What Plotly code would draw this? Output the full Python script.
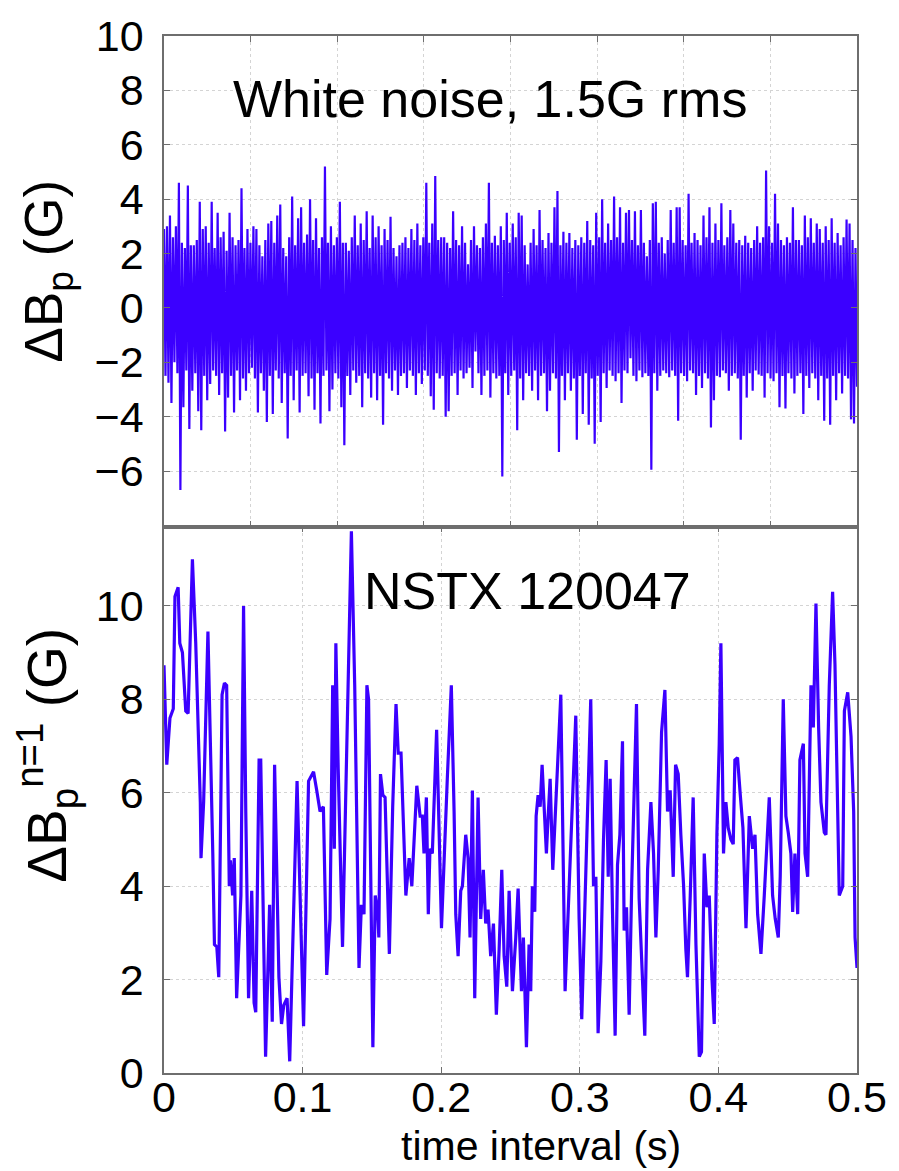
import numpy as np
import plotly.graph_objects as go

# ---- Top panel: synthetic white noise, 1.5 G rms (positive / negative swings) ----
noise_pos = [
    2.9, 3.0, 3.4, 2.6, 3.0, 4.6, 2.4, 2.2, 4.5, 2.3, 2.3, 2.5, 3.9, 2.9, 3.0, 2.4, 3.9, 2.2, 3.5, 2.6,
    2.8, 2.1, 3.5, 2.6, 2.3, 2.5, 4.4, 2.2, 2.9, 2.4, 3.0, 2.9, 2.3, 1.9, 2.5, 3.1, 3.2, 2.4, 3.4, 3.8,
    2.2, 1.9, 2.6, 4.1, 2.3, 3.3, 3.7, 2.4, 2.7, 4.0, 2.5, 3.3, 2.2, 2.6, 5.2, 2.4, 3.0, 2.3, 2.6, 3.9,
    2.4, 2.4, 2.1, 2.6, 3.4, 2.3, 3.1, 2.5, 3.55, 2.2, 3.4, 2.6, 3.0, 2.3, 2.9, 2.5, 3.35, 2.2, 1.9, 2.3,
    2.4, 2.6, 2.2, 2.9, 2.5, 3.1, 2.3, 2.6, 4.6, 2.4, 3.1, 4.85, 2.5, 2.6, 2.6, 2.4, 2.2, 3.55, 2.5, 2.3,
    3.0, 2.4, 1.6, 2.5, 3.0, 2.3, 2.2, 2.6, 3.1, 4.6, 2.4, 2.65, 2.3, 3.0, 2.5, 3.5, 2.4, 3.1, 2.6, 3.5,
    3.4, 2.3, 1.6, 2.4, 2.9, 2.3, 3.6, 2.5, 2.2, 2.75, 2.4, 3.7, 4.3, 2.3, 2.8, 2.4, 2.75, 2.2, 2.5, 2.3,
    2.6, 2.4, 3.2, 2.5, 2.3, 3.5, 2.6, 4.0, 2.4, 3.1, 2.5, 4.1, 2.6, 3.7, 2.4, 3.5, 3.6, 2.5, 3.55, 2.3,
    3.6, 2.4, 1.9, 2.5, 3.85, 3.9, 2.4, 2.6, 2.0, 2.5, 3.6, 2.4, 3.7, 3.7, 2.5, 2.3, 4.2, 2.4, 2.75, 2.5,
    2.3, 3.4, 2.6, 3.7, 2.4, 3.1, 2.5, 3.85, 2.3, 2.6, 3.6, 3.1, 2.4, 2.5, 2.3, 2.65, 2.4, 2.2, 2.5, 3.0,
    2.4, 2.6, 5.05, 3.0, 2.4, 4.2, 3.1, 2.5, 2.3, 2.6, 2.4, 3.7, 2.5, 2.5, 2.3, 3.4, 2.6, 3.3, 2.4, 3.1,
    2.9, 2.4, 3.0, 2.5, 3.3, 2.4, 2.75, 2.3, 2.6, 3.25, 3.1, 2.5, 2.2,
]
noise_neg = [
    -2.5, -2.75, -3.5, -2.0, -2.4, -6.7, -3.65, -2.3, -4.45, -3.05, -2.4, -3.8, -4.5, -2.5, -3.4, -2.8, -2.3, -2.5, -3.2, -2.4,
    -4.55, -3.3, -2.5, -3.85, -2.3, -3.4, -2.6, -3.05, -2.4, -2.2, -2.6, -3.85, -2.4, -3.05, -4.2, -2.5, -3.9, -2.3, -2.6, -3.5,
    -2.4, -4.8, -2.5, -3.4, -2.3, -3.85, -2.5, -2.4, -3.25, -2.6, -3.75, -2.4, -4.25, -2.5, -2.3, -3.8, -3.0, -2.4, -2.6, -3.65,
    -5.05, -2.5, -3.2, -2.3, -2.75, -2.5, -3.65, -2.4, -2.6, -3.3, -2.4, -3.4, -2.5, -4.3, -2.4, -2.6, -3.05, -2.3, -3.2, -2.5,
    -2.4, -2.95, -2.3, -2.5, -3.2, -2.4, -2.8, -2.3, -2.5, -3.25, -3.75, -2.4, -2.6, -2.5, -4.0, -3.8, -2.5, -2.4, -3.2, -2.3,
    -2.6, -2.4, -2.2, -2.95, -1.6, -2.4, -3.2, -2.5, -2.3, -3.3, -2.4, -2.6, -2.5, -6.2, -2.4, -3.2, -2.5, -2.3, -4.5, -2.6,
    -3.4, -2.4, -2.5, -3.05, -2.3, -3.4, -2.5, -2.4, -3.8, -3.05, -2.4, -2.6, -5.3, -2.5, -3.4, -2.4, -3.05, -2.6, -4.85, -2.5,
    -3.9, -2.4, -4.3, -2.6, -5.0, -2.5, -4.2, -2.4, -2.95, -2.3, -2.5, -2.7, -2.4, -3.5, -2.3, -2.4, -1.85, -2.5, -2.7, -2.3,
    -2.55, -2.4, -2.5, -5.95, -2.4, -3.05, -2.5, -2.3, -2.4, -2.55, -2.3, -2.5, -4.15, -2.4, -2.5, -2.7, -2.3, -2.4, -3.2, -2.5,
    -2.95, -2.4, -2.6, -4.4, -3.4, -2.5, -2.55, -2.3, -2.4, -3.05, -2.5, -2.4, -2.6, -4.85, -2.5, -3.3, -2.4, -3.05, -2.3, -2.45,
    -2.5, -3.3, -2.4, -2.6, -2.7, -2.4, -3.65, -2.5, -3.7, -2.4, -2.6, -3.15, -2.5, -2.4, -3.9, -2.5, -2.95, -2.4, -2.6, -3.4,
    -2.5, -4.15, -2.6, -4.3, -2.5, -3.4, -2.4, -3.15, -2.5, -2.6, -4.1, -4.25, -2.9,
]

# ---- Bottom panel: NSTX shot 120047, n=1 perturbation amplitude ----
bottom_time = [
    0.0, 0.002, 0.0043, 0.0067, 0.0079, 0.0102, 0.0114, 0.0133, 0.0157, 0.0174,
    0.0205, 0.0229, 0.0262, 0.0267, 0.0286, 0.0317, 0.0352, 0.0364, 0.0381, 0.0395,
    0.0419, 0.0436, 0.0452, 0.0471, 0.0479, 0.0495, 0.0507, 0.0524, 0.0555, 0.0574,
    0.0590, 0.0610, 0.0633, 0.0650, 0.0662, 0.0686, 0.0698, 0.0733, 0.0762, 0.0781,
    0.0798, 0.0829, 0.0848, 0.0864, 0.0888, 0.0907, 0.0960, 0.0983, 0.1007, 0.1043,
    0.1079, 0.1102, 0.1126, 0.1150, 0.1174, 0.1198, 0.1217, 0.1229, 0.1240, 0.1257,
    0.1288, 0.1352, 0.1376, 0.1407, 0.1424, 0.1443, 0.1464, 0.1476, 0.1507, 0.1524,
    0.1543, 0.1550, 0.1562, 0.1579, 0.1595, 0.1626, 0.1650, 0.1674, 0.1690, 0.1710,
    0.1745, 0.1769, 0.1788, 0.1824, 0.1848, 0.1864, 0.1876, 0.1893, 0.1907, 0.1919,
    0.1936, 0.1967, 0.1983, 0.2002, 0.2044, 0.2073, 0.2093, 0.2105, 0.2122, 0.2141,
    0.2153, 0.2177, 0.2194, 0.2208, 0.2225, 0.2242, 0.2266, 0.2285, 0.2304, 0.2321,
    0.2338, 0.2357, 0.2377, 0.2398, 0.2418, 0.2437, 0.2454, 0.2473, 0.2490, 0.2514,
    0.2538, 0.2555, 0.2579, 0.2593, 0.2615, 0.2634, 0.2646, 0.2658, 0.2675, 0.2685,
    0.2699, 0.2714, 0.2728, 0.2742, 0.2759, 0.2771, 0.2786, 0.2805, 0.2827, 0.2844,
    0.2863, 0.2894, 0.2935, 0.2971, 0.2995, 0.3014, 0.3051, 0.3079, 0.3099, 0.3116,
    0.3132, 0.3152, 0.3171, 0.3190, 0.3205, 0.3219, 0.3236, 0.3255, 0.3272, 0.3289,
    0.3308, 0.3320, 0.3337, 0.3356, 0.3375, 0.3392, 0.3409, 0.3428, 0.3452, 0.3469,
    0.3489, 0.3513, 0.3532, 0.3549, 0.3566, 0.3590, 0.3614, 0.3633, 0.3652, 0.3674,
    0.3691, 0.3710, 0.3729, 0.3749, 0.3765, 0.3777, 0.3797, 0.3818, 0.3838, 0.3862,
    0.3878, 0.3898, 0.3917, 0.3934, 0.3953, 0.3970, 0.3989, 0.4006, 0.4018, 0.4037,
    0.4054, 0.4071, 0.4090, 0.4107, 0.4119, 0.4138, 0.4158, 0.4177, 0.4199, 0.4223,
    0.4247, 0.4264, 0.4283, 0.4307, 0.4331, 0.4367, 0.4391, 0.4410, 0.4432, 0.4446,
    0.4468, 0.4487, 0.4504, 0.4523, 0.4536, 0.4552, 0.4572, 0.4588, 0.4613, 0.4625,
    0.4644, 0.4668, 0.4685, 0.4704, 0.4723, 0.4740, 0.4764, 0.4776, 0.4800, 0.4824,
    0.4841, 0.4860, 0.4872, 0.4897, 0.4909, 0.4933, 0.4957, 0.4976, 0.4986, 0.5000,
]
bottom_dbp = [
    8.73, 6.6, 7.6, 7.8, 10.2, 10.4, 9.2, 9.0, 7.75, 7.7,
    11.0, 9.2, 5.8, 4.6, 5.8, 9.45, 4.7, 2.75, 2.7, 2.05,
    8.1, 8.35, 8.3, 4.0, 4.55, 3.8, 4.6, 1.6, 3.8, 10.0,
    5.6, 1.6, 3.9, 1.5, 1.3, 6.7, 6.7, 0.35, 3.6, 1.1,
    6.6, 2.05, 1.05, 1.45, 1.6, 0.25, 6.25, 3.4, 1.0, 6.25,
    6.45, 6.05, 5.6, 5.7, 2.1, 3.3, 8.3, 4.8, 9.2, 6.5,
    2.7, 11.6, 8.3, 2.25, 3.6, 3.4, 8.3, 8.0, 0.55, 3.8,
    3.4, 2.9, 6.4, 5.95, 5.9, 2.55, 5.7, 7.9, 6.85, 6.85,
    3.8, 4.6, 4.0, 6.15, 5.5, 5.5, 4.7, 5.9, 3.4, 4.8,
    4.7, 7.35, 5.6, 3.1, 6.3, 8.3, 5.6, 3.4, 2.5, 3.9,
    4.0, 5.1, 4.6, 2.9, 6.05, 1.6, 5.9, 3.3, 4.35, 3.2,
    3.5, 2.5, 3.2, 1.25, 2.65, 4.35, 2.5, 1.85, 3.9, 1.75,
    2.9, 3.95, 1.75, 2.9, 0.55, 2.75, 1.75, 4.0, 3.45, 5.5,
    5.95, 5.7, 6.6, 5.8, 4.7, 5.45, 6.3, 4.35, 5.8, 6.75,
    8.1, 1.75, 4.9, 7.65, 3.3, 1.15, 5.1, 8.0, 4.0, 4.2,
    0.85, 2.4, 5.0, 6.7, 4.2, 6.3, 3.45, 0.8, 4.45, 5.1,
    7.1, 3.05, 3.55, 1.25, 4.1, 6.05, 7.9, 3.75, 2.05, 0.8,
    4.35, 5.8, 4.7, 2.9, 4.35, 7.3, 8.2, 5.6, 6.05, 4.2,
    6.6, 6.4, 5.1, 4.0, 2.65, 2.05, 3.8, 5.9, 2.75, 0.35,
    0.45, 4.7, 3.55, 3.8, 2.05, 1.05, 5.1, 7.05, 9.2, 4.7,
    5.8, 5.25, 5.0, 4.9, 6.7, 6.75, 5.95, 5.25, 3.1, 5.5,
    4.8, 5.1, 3.4, 2.55, 3.8, 5.9, 3.8, 3.3, 2.9, 4.2,
    8.0, 5.5, 5.15, 4.7, 3.45, 4.7, 3.4, 6.7, 7.05, 4.7,
    4.2, 8.3, 7.4, 10.05, 7.4, 5.8, 5.15, 5.1, 8.3, 10.3,
    8.75, 5.6, 3.8, 4.0, 7.75, 8.15, 7.2, 5.6, 2.9, 2.25,
]

x_ticks = [0, 0.1, 0.2, 0.3, 0.4, 0.5]
x_ticklabels = ["0", "0.1", "0.2", "0.3", "0.4", "0.5"]
top_yticks = [-6, -4, -2, 0, 2, 4, 6, 8, 10]
bottom_yticks = [0, 2, 4, 6, 8, 10]

LINE_COLOR = "#3b00ff"
FRAME = "#6e6e6e"
GRID = "#d4d4d4"
FONT = "Arial, Liberation Sans, sans-serif"

# interleave positive and negative swings into one noise trace
noise = np.empty(len(noise_pos) + len(noise_neg))
noise[0::2] = noise_pos
noise[1::2] = noise_neg
noise_time = np.linspace(0, 0.5, len(noise))

fig = go.Figure()
fig.add_trace(go.Scatter(x=noise_time, y=noise, mode="lines",
                         line=dict(color=LINE_COLOR, width=2.2),
                         xaxis="x2", yaxis="y2", showlegend=False))
fig.add_trace(go.Scatter(x=bottom_time, y=bottom_dbp, mode="lines",
                         line=dict(color=LINE_COLOR, width=3.2),
                         xaxis="x", yaxis="y", showlegend=False))

axis_common = dict(showline=True, linecolor=FRAME, linewidth=1.5, mirror="ticks",
                   ticks="inside", ticklen=6, tickcolor=FRAME,
                   showgrid=True, gridcolor=GRID, griddash="dot", gridwidth=1,
                   zeroline=False, tickfont=dict(family=FONT, size=43, color="black"))

fig.update_layout(
    width=899, height=1171,
    margin=dict(l=164, r=38, t=24, b=98),
    paper_bgcolor="white", plot_bgcolor="white",
    font=dict(family=FONT, color="black"),
    xaxis=dict(axis_common, domain=[0, 1], range=[0, 0.5], anchor="y",
               tickvals=x_ticks, ticktext=x_ticklabels, ticklabelstandoff=-14),
    yaxis=dict(axis_common, domain=[0, 0.527], range=[0, 11.7], anchor="x",
               tickvals=bottom_yticks, ticklabelstandoff=10),
    xaxis2=dict(axis_common, domain=[0, 1], range=[0, 0.5], anchor="y2",
                dtick=0.0625, tick0=0, showticklabels=False),
    yaxis2=dict(axis_common, domain=[0.527, 1], range=[-8.04, 10], anchor="x2",
                tickvals=top_yticks, ticklabelstandoff=10),
)

annotations = [
    dict(text="White noise, 1.5G rms", x=0.4706, y=0.939, font=dict(size=52)),
    dict(text="NSTX 120047", x=0.525, y=0.465, font=dict(size=52)),
    dict(text="time interval (s)", x=0.544, y=-0.0705, font=dict(size=41)),
    dict(text="ΔB<sub>p</sub> (G)", x=0, xshift=-117, y=0.773, textangle=-90,
         font=dict(size=53)),
    dict(text="ΔB<sub>p</sub><sup>n=1</sup> (G)", x=0, xshift=-117, y=0.306,
         textangle=-90, font=dict(size=55)),
]
for a in annotations:
    fig.add_annotation(xref="paper", yref="paper", showarrow=False,
                       xanchor="center", yanchor="middle",
                       **{k: v for k, v in a.items() if k != "font"},
                       font=dict(family=FONT, color="black", **a["font"]))

fig.write_html("out.html")
